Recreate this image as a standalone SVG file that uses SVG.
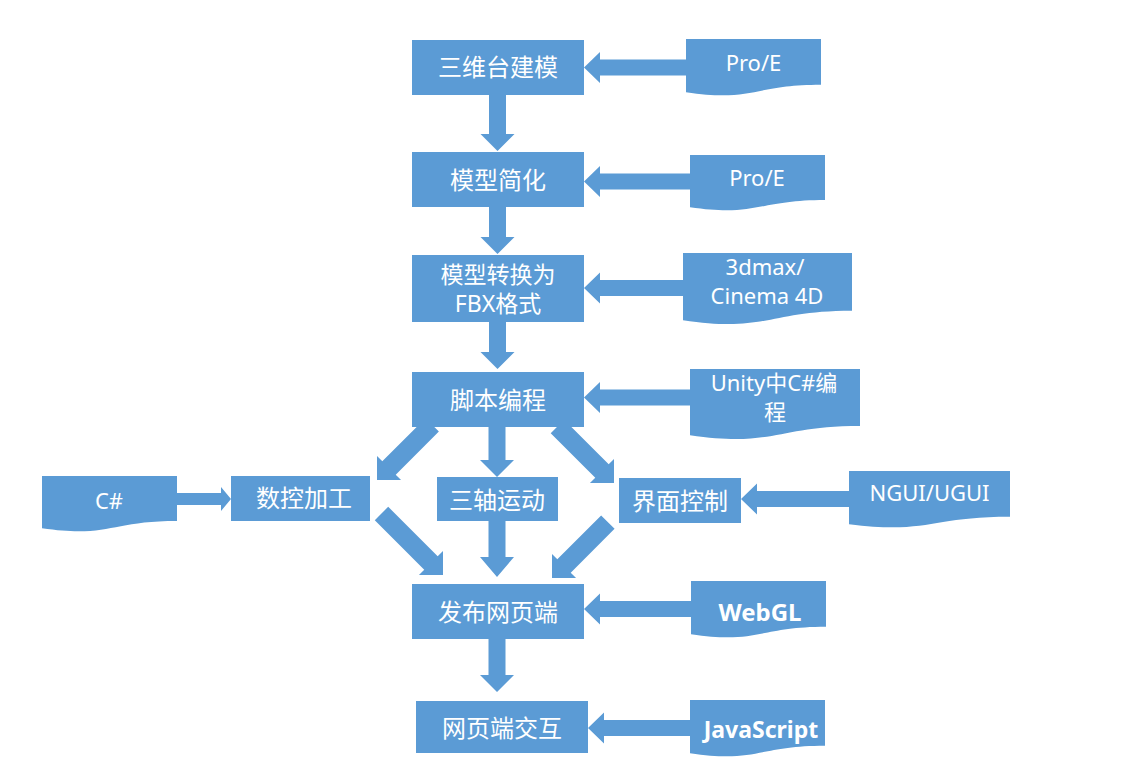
<svg xmlns="http://www.w3.org/2000/svg" width="1141" height="759" viewBox="0 0 1141 759">
<style>
.box{fill:#5B9BD5}
.doc{fill:#5B9BD5}
.arr{fill:#5B9BD5}
.t{fill:#FFFFFF;font-family:"Noto Sans","Noto Sans CJK SC",sans-serif;text-anchor:middle}
.cn{font-size:24px}
.cn2{font-size:23px}
.en{font-size:22px}
.b{font-size:24px;font-weight:bold}
.b2{font-size:23px;font-weight:bold}
</style>
<rect width="1141" height="759" fill="#FFFFFF"/>
<g id="connectors">
<polygon class="arr" transform="translate(497.5,151) rotate(90)" points="0,0 -17,-17 -17,-8.5 -56,-8.5 -56,8.5 -17,8.5 -17,17"/>
<polygon class="arr" transform="translate(497.5,254) rotate(90)" points="0,0 -17,-17 -17,-8.5 -47,-8.5 -47,8.5 -17,8.5 -17,17"/>
<polygon class="arr" transform="translate(497.5,369) rotate(90)" points="0,0 -17,-17 -17,-8.5 -47,-8.5 -47,8.5 -17,8.5 -17,17"/>
<polygon class="arr" transform="translate(497,477) rotate(90)" points="0,0 -17,-17 -17,-8.5 -50,-8.5 -50,8.5 -17,8.5 -17,17"/>
<polygon class="arr" transform="translate(497,577) rotate(90)" points="0,0 -20,-17 -20,-8.5 -56,-8.5 -56,8.5 -20,8.5 -20,17"/>
<polygon class="arr" transform="translate(497,692) rotate(90)" points="0,0 -17,-17 -17,-8.5 -53,-8.5 -53,8.5 -17,8.5 -17,17"/>
<polygon class="arr" transform="translate(584,67.5) rotate(180)" points="0,0 -16,-15.5 -16,-8 -102,-8 -102,8 -16,8 -16,15.5"/>
<polygon class="arr" transform="translate(584,181.5) rotate(180)" points="0,0 -16,-15.5 -16,-8 -106,-8 -106,8 -16,8 -16,15.5"/>
<polygon class="arr" transform="translate(584,288) rotate(180)" points="0,0 -16,-15.5 -16,-8 -99,-8 -99,8 -16,8 -16,15.5"/>
<polygon class="arr" transform="translate(584,397.5) rotate(180)" points="0,0 -16,-15.5 -16,-8 -106,-8 -106,8 -16,8 -16,15.5"/>
<polygon class="arr" transform="translate(741,499) rotate(180)" points="0,0 -16,-15.5 -16,-8 -108,-8 -108,8 -16,8 -16,15.5"/>
<polygon class="arr" transform="translate(584,609) rotate(180)" points="0,0 -16,-15.5 -16,-8 -107,-8 -107,8 -16,8 -16,15.5"/>
<polygon class="arr" transform="translate(588,728) rotate(180)" points="0,0 -16,-15.5 -16,-8 -102,-8 -102,8 -16,8 -16,15.5"/>
<polygon class="arr" transform="translate(231,499)" points="0,0 -10,-12 -10,-6 -54,-6 -54,6 -10,6 -10,12"/>
<polygon class="arr" transform="translate(377,480) rotate(135)" points="0,0 -17,-17 -17,-9.5 -78,-9.5 -78,9.5 -17,9.5 -17,17"/>
<polygon class="arr" transform="translate(614,483) rotate(45)" points="0,0 -17,-17 -17,-9.5 -80,-9.5 -80,9.5 -17,9.5 -17,17"/>
<polygon class="arr" transform="translate(443,575) rotate(45)" points="0,0 -17,-17 -17,-9.5 -87,-9.5 -87,9.5 -17,9.5 -17,17"/>
<polygon class="arr" transform="translate(552,578) rotate(135)" points="0,0 -17,-17 -17,-9.5 -79,-9.5 -79,9.5 -17,9.5 -17,17"/>
</g>
<g id="n1"><rect class="box" x="412" y="40" width="172" height="55"/><text class="t cn" x="498" y="76">三维台建模</text></g>
<g id="n2"><rect class="box" x="412" y="152" width="172" height="55"/><text class="t cn" x="498" y="189">模型简化</text></g>
<g id="n3"><rect class="box" x="412" y="255" width="172" height="67"/><text class="t cn2" x="498" y="283">模型转换为</text><text class="t cn2" x="498" y="312">FBX格式</text></g>
<g id="n4"><rect class="box" x="412" y="372" width="172" height="55"/><text class="t cn" x="498" y="409">脚本编程</text></g>
<g id="n5"><rect class="box" x="231" y="476" width="139" height="45"/><text class="t cn" x="304" y="507">数控加工</text></g>
<g id="n6"><rect class="box" x="437" y="477" width="121" height="44"/><text class="t cn" x="497" y="509">三轴运动</text></g>
<g id="n7"><rect class="box" x="619" y="478" width="122" height="45"/><text class="t cn" x="680" y="510">界面控制</text></g>
<g id="n8"><rect class="box" x="412" y="584" width="172" height="55"/><text class="t cn" x="498" y="621">发布网页端</text></g>
<g id="n9"><rect class="box" x="416" y="701" width="172" height="52"/><text class="t cn" x="502" y="737">网页端交互</text></g>
<g id="d1"><path class="doc" d="M686,39 H821 V84.7 C753.5,84.7 753.5,102.2 686,92.2 Z"/><text class="t en" x="753.5" y="71">Pro/E</text></g>
<g id="d2"><path class="doc" d="M690,155 H825 V199.9 C757.5,199.9 757.5,217 690,207.3 Z"/><text class="t en" x="757" y="186">Pro/E</text></g>
<g id="d3"><path class="doc" d="M683,253 H852 V310.7 C767.5,310.7 767.5,332.8 683,320.2 Z"/><text class="t en" x="765" y="275">3dmax/</text><text class="t en" x="767" y="304">Cinema 4D</text></g>
<g id="d4"><path class="doc" d="M690,369 H860 V425.9 C775,425.9 775,447.7 690,435.3 Z"/><text class="t en" x="774" y="391">Unity中C#编</text><text class="t en" x="775" y="420">程</text></g>
<g id="d5"><path class="doc" d="M42,476 H177 V520.9 C109.5,520.9 109.5,538 42,528.3 Z"/><text class="t en" x="109" y="509">C#</text></g>
<g id="d6"><path class="doc" d="M849,471 H1010 V516.7 C929.5,516.7 929.5,534.2 849,524.2 Z"/><text class="t en" x="929.5" y="501">NGUI/UGUI</text></g>
<g id="d7"><path class="doc" d="M691,581 H826 V626.7 C758.5,626.7 758.5,644.2 691,634.2 Z"/><text class="t b" x="760" y="621">WebGL</text></g>
<g id="d8"><path class="doc" d="M690,700 H825 V745.7 C757.5,745.7 757.5,763.2 690,753.2 Z"/><text class="t b2" x="761" y="738">JavaScript</text></g>
</svg>
